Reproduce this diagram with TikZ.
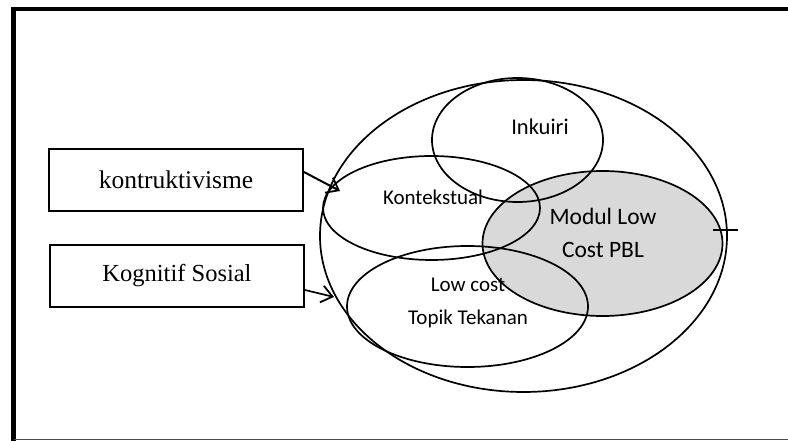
\documentclass[tikz,border=0pt]{standalone}
\usepackage{fontspec}
\setmainfont{Liberation Serif}
\newfontfamily\calfont{Carlito}
\usetikzlibrary{shapes.geometric,arrows.meta}
\tikzset{
  oval/.style={ellipse, draw, line width=1.7pt, inner sep=0pt},
  boxnode/.style={draw, line width=1.9pt, minimum width=254pt, minimum height=62pt, inner sep=0pt},
  lbl/.style={font=\calfont\fontsize{21}{33}\selectfont, align=center, inner sep=0pt},
  conn/.style={line width=2pt, -{Straight Barb[length=11pt,width=17pt,line width=1.8pt]}}
}
\begin{document}
\begin{tikzpicture}[x=1pt,y=-1pt]
\useasboundingbox (0,0) rectangle (788,441);
% frame
\draw[line width=4.5pt] (13.5,441) -- (13.5,9) -- (788,9);
\draw[line width=1.3pt, black!70] (13.5,439.6) -- (788,439.6);
% gray ellipse first
\node[oval, fill=black!15, minimum width=240pt, minimum height=145pt] (modul) at (602.5,243.5) {};
% ellipses
\node[oval, minimum width=407pt, minimum height=312pt] (big) at (523.5,236) {};
\node[oval, minimum width=171pt, minimum height=124pt] (inkuiri) at (517.5,140) {};
\node[oval, minimum width=217pt, minimum height=104pt] (kontek) at (431.5,208) {};
\node[oval, minimum width=241pt, minimum height=121pt] (lowcost) at (467.5,306.5) {};
% labels
\node[lbl, font=\calfont\fontsize{22.5}{33}\selectfont] (tinkuiri) at (540,127) {Inkuiri};
\node[lbl] (tkontek) at (433,197) {Kontekstual};
\node[lbl, font=\calfont\fontsize{23.5}{33}\selectfont] (tmodul) at (603,233) {Modul Low\\Cost PBL};
\node[lbl] (tlow) at (468,303) {Low cost\\Topik Tekanan};
% tick mark on the right
\coordinate (tickl) at (713,230);
\coordinate (tickr) at (738,230);
\draw[line width=1.7pt] (tickl) -- (tickr);
% boxes
\node[boxnode, font=\fontsize{25.5}{30}\selectfont] (k1) at (176,180) {kontruktivisme};
\node[boxnode, font=\fontsize{24.5}{30}\selectfont] (k2) at (177,276) {Kognitif Sosial};
% arrows
\coordinate (t1) at (340,191);
\coordinate (t2) at (334,297);
\draw[conn] ([yshift=8pt]k1.east) -- (t1);
\draw[conn, line width=1.7pt] ([yshift=-14pt]k2.east) -- (t2);
\end{tikzpicture}
\end{document}
